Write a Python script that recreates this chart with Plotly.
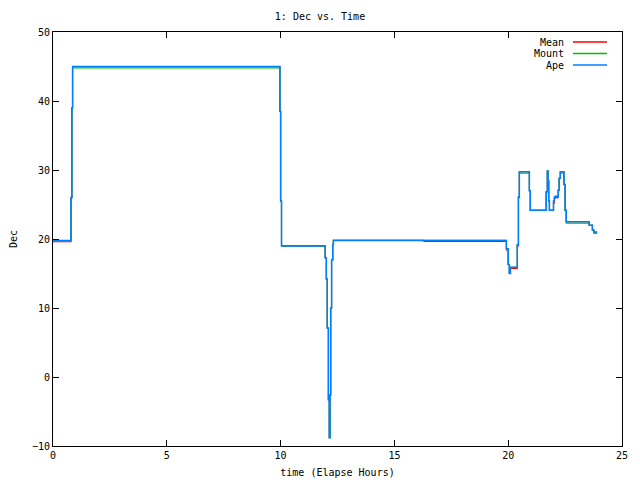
import plotly.graph_objects as go

# time (elapsed hours) at each step change
t = [0, 0.79, 0.83, 0.86, 9.97, 10.0, 10.04, 11.96, 12.01, 12.05, 12.10, 12.14, 12.17, 12.2,
     12.24, 12.29, 12.32, 16.3, 19.92, 20.0, 20.05, 20.1, 20.4, 20.45, 20.49, 20.93, 20.97,
     21.67, 21.72, 21.75, 21.78, 21.81, 21.99, 22.03, 22.08, 22.2, 22.24, 22.29, 22.45,
     22.5, 22.55, 23.56, 23.7, 23.76, 23.91]

ape = [19.8, 26.0, 39.0, 45.0, 38.5, 25.5, 19.0, 17.3, 14.2, 7.1, -3.3, -8.8, -2.6, 10.0,
       17.0, 19.2, 19.8, 19.8, 18.6, 16.3, 15.0, 15.9, 19.2, 26.1, 29.75, 27.0, 24.15,
       26.85, 29.85, 28.4, 25.5, 24.15, 25.5, 26.1, 26.2, 27.1, 28.8, 29.75, 27.9,
       24.15, 22.5, 22.0, 21.3, 21.0, 21.0]

mean = [19.6, 26.0, 39.0, 45.0, 38.5, 25.5, 19.0, 17.3, 14.2, 7.1, -3.3, -8.8, -2.6, 10.0,
        17.0, 19.2, 19.8, 19.65, 18.4, 16.3, 15.0, 15.75, 19.0, 26.0, 29.75, 27.0, 24.15,
        26.85, 29.85, 28.4, 25.5, 24.15, 25.2, 25.9, 26.0, 27.0, 28.8, 29.75, 27.9,
        24.15, 22.5, 22.0, 21.3, 20.85, 20.85]

mount = [19.7, 26.0, 39.0, 44.8, 38.5, 25.5, 19.0, 17.3, 14.2, 7.1, -3.3, -8.8, -2.6, 10.0,
         17.0, 19.2, 19.8, 19.8, 18.6, 16.3, 15.0, 15.9, 19.2, 26.1, 29.55, 27.0, 24.15,
         26.85, 29.85, 28.4, 25.5, 24.15, 25.5, 26.1, 26.2, 27.1, 28.8, 29.55, 27.9,
         24.15, 22.3, 22.0, 21.3, 21.0, 21.0]

series_names = ["Mean", "Mount", "Ape"]
series_vals = [mean, mount, ape]
colors = ["#ff0000", "#00c000", "#0080ff"]
widths = [1.1, 1.1, 1.5]

FONT = "DejaVu Sans Mono"
FS = 10

fig = go.Figure()
for name, vals, c, w in zip(series_names, series_vals, colors, widths):
    fig.add_trace(go.Scatter(x=t, y=vals, mode="lines", name=name,
                             line=dict(color=c, width=w, shape="hv"),
                             showlegend=False))

# gnuplot-style legend: text on the left, line sample on the right
L, R, T, B = 53, 622, 32, 446
W, H = R - L, B - T
def px(x): return (x - L) / W
def py(y): return (B - y) / H

for i, (name, c) in enumerate(zip(series_names, colors)):
    yy = 42 + i * 11.5
    fig.add_annotation(x=px(566), y=py(yy), xref="paper", yref="paper",
                       text=name, showarrow=False, xanchor="right", yanchor="middle",
                       font=dict(family=FONT, size=FS, color="black"))
    fig.add_shape(type="line", xref="paper", yref="paper",
                  x0=px(573), x1=px(607), y0=py(yy), y1=py(yy),
                  line=dict(color=c, width=1.3))

axis_common = dict(showgrid=False, zeroline=False, showline=True, linecolor="black",
                   linewidth=1, mirror="ticks", ticks="inside", ticklen=6,
                   tickcolor="black", automargin=False,
                   tickfont=dict(family=FONT, size=FS, color="black"))

fig.update_xaxes(range=[0, 25], tick0=0, dtick=5,
                 title=dict(text="time (Elapse Hours)", font=dict(family=FONT, size=FS, color="black"),
                            standoff=8),
                 **axis_common)
fig.update_yaxes(range=[-10, 50], tick0=-10, dtick=10,
                 title=dict(text="Dec", font=dict(family=FONT, size=FS, color="black"),
                            standoff=12),
                 **axis_common)

fig.update_layout(
    width=640, height=480,
    margin=dict(l=L, r=640 - R, t=T, b=480 - B),
    paper_bgcolor="white", plot_bgcolor="white",
    title=dict(text="1: Dec vs. Time", x=0.5, xanchor="center", y=1 - 16 / 480,
               yanchor="middle", font=dict(family=FONT, size=FS, color="black")),
)

fig.write_html("out.html")
